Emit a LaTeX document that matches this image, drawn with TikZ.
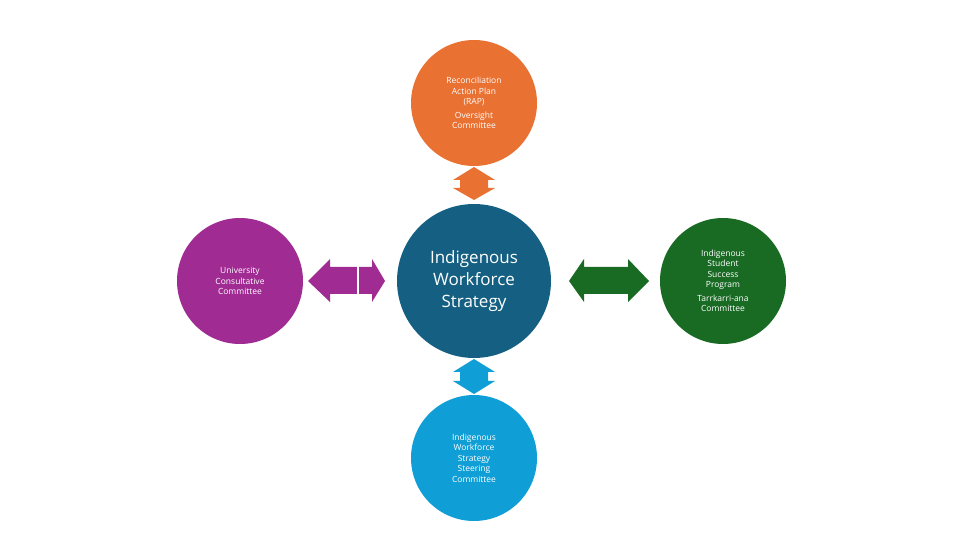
\documentclass[tikz,border=0pt]{standalone}
\usepackage{fontspec}
\setmainfont{Open Sans}
\definecolor{corange}{HTML}{E97132}
\definecolor{cblue}{HTML}{156082}
\definecolor{cpurple}{HTML}{A02B93}
\definecolor{cgreen}{HTML}{196B24}
\definecolor{clight}{HTML}{0F9ED5}
\begin{document}
\begin{tikzpicture}[x=1pt,y=-1pt,
  circ/.style={circle,minimum size=126pt,inner sep=0pt,text=white,align=center,font=\fontsize{8.5}{10.5}\selectfont},
  big/.style={circle,minimum size=154pt,inner sep=0pt,text=white,align=center,font=\fontsize{17}{22}\selectfont}]
\useasboundingbox (0,0) rectangle (970,545);
\node[big,fill=cblue] (c) at (474,281) {Indigenous\\Workforce\\Strategy};
\node[circ,fill=corange] (t) at (474,103) {Reconciliation\\Action Plan\\(RAP)\\[3pt]Oversight\\Committee};
\node[circ,fill=clight] (b) at (474,458) {Indigenous\\Workforce\\Strategy\\Steering\\Committee};
\node[circ,fill=cpurple] (l) at (240,281) {University\\Consultative\\Committee};
\node[circ,fill=cgreen] (r) at (723,281) {Indigenous\\Student\\Success\\Program\\[3pt]Tarrkarri-ana\\Committee};
% vertical arrows
\fill[corange] (474,167) -- (495,180) -- (488,180) -- (488,188) -- (495,188) -- (474,200) -- (453,188) -- (460,188) -- (460,180) -- (453,180) -- cycle;
\fill[clight] (474,359) -- (495,372) -- (488,372) -- (488,381) -- (495,381) -- (474,394) -- (453,381) -- (460,381) -- (460,372) -- (453,372) -- cycle;
% horizontal arrows
\fill[cpurple] (308,281) -- (330,259) -- (330,267) -- (372,267) -- (372,259) -- (385,281) -- (372,302) -- (372,294) -- (330,294) -- (330,302) -- cycle;
\draw[white,line width=1.2pt] (358,266) -- (358,295);
\fill[cgreen] (569,281) -- (584,259) -- (584,267) -- (628,267) -- (628,259) -- (649,281) -- (628,302) -- (628,294) -- (584,294) -- (584,302) -- cycle;
\end{tikzpicture}
\end{document}
